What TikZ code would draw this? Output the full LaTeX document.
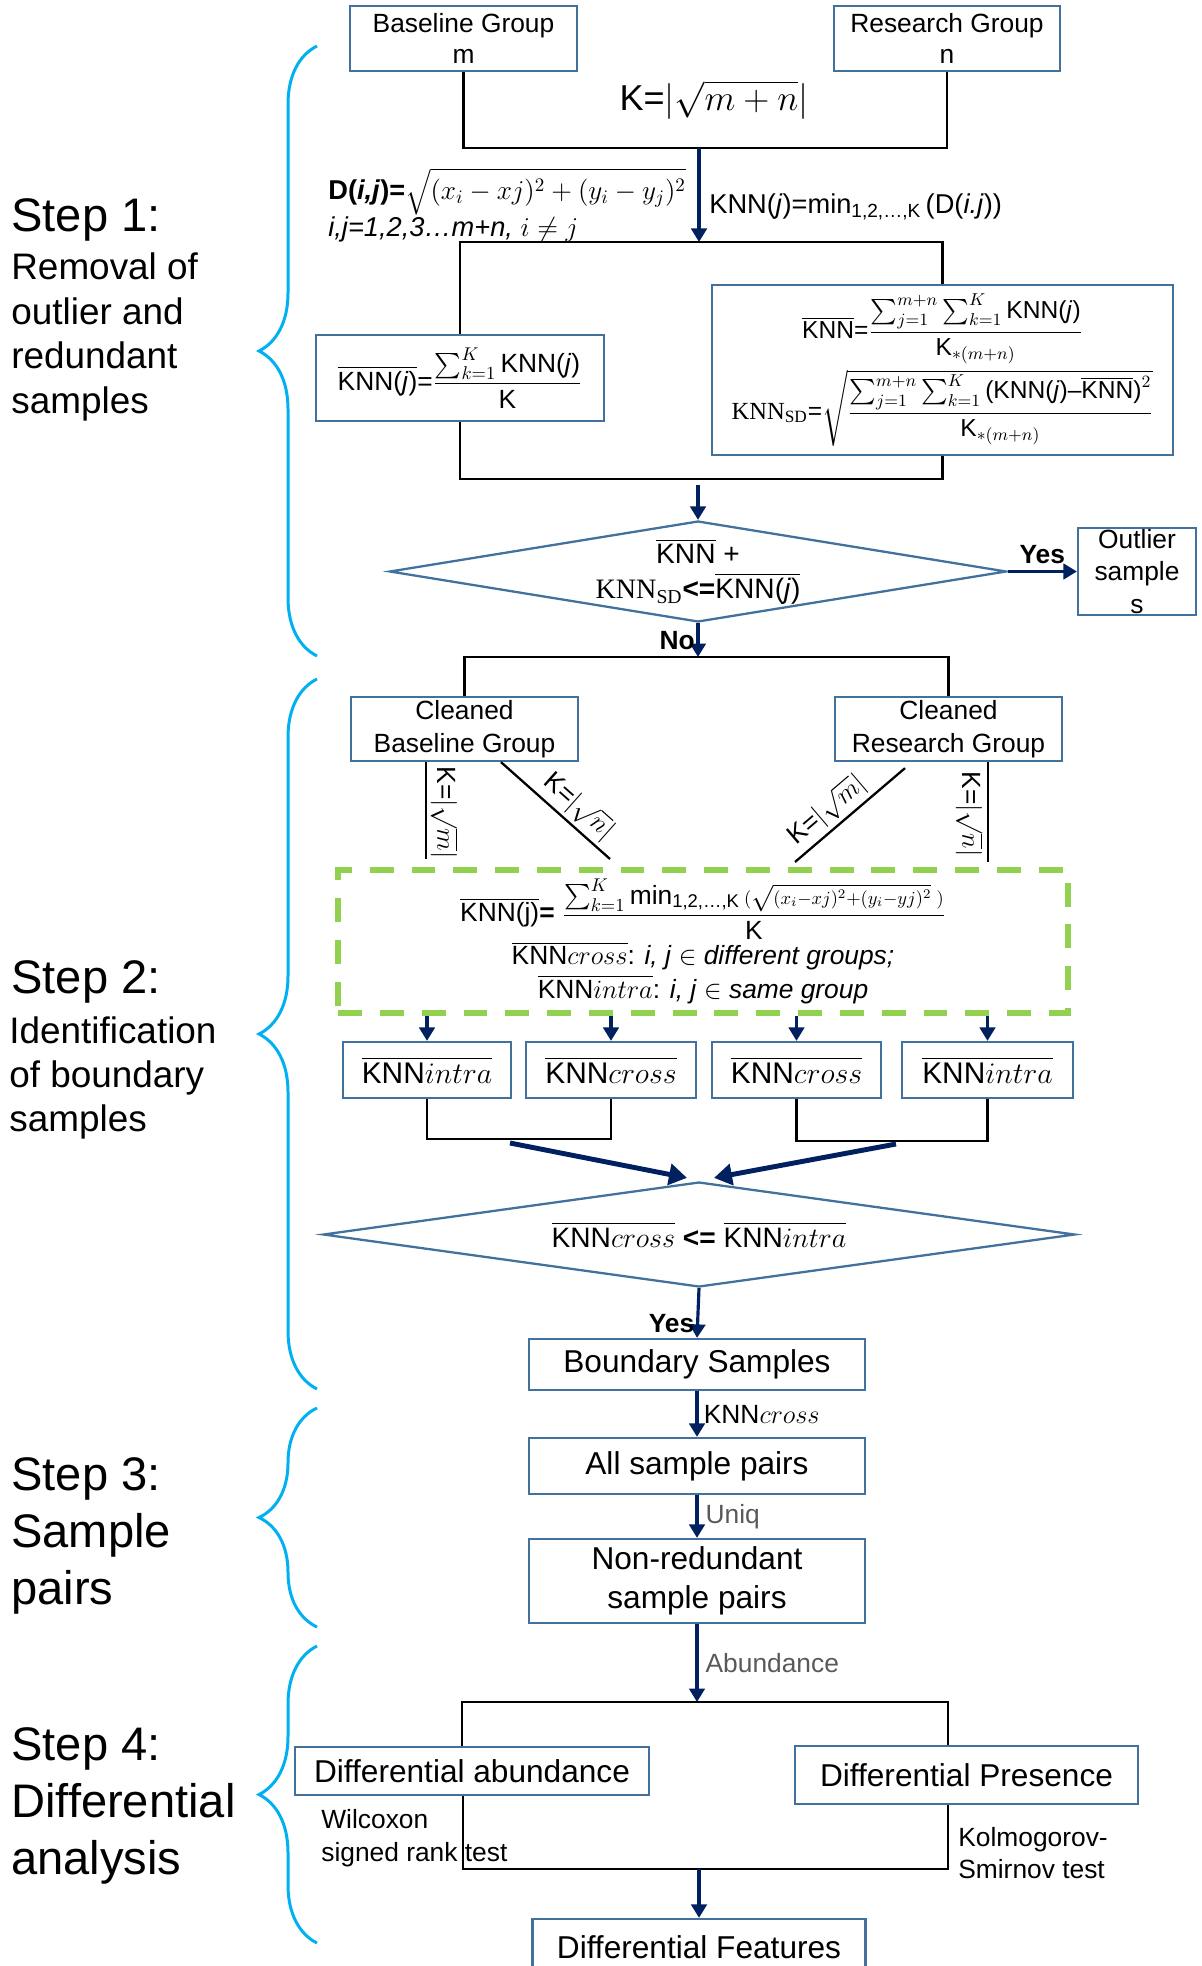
\RequirePackage{fix-cm}
\documentclass[tikz,border=0pt]{standalone}
\usepackage{amsmath}
\usepackage{fontspec}
\setmainfont{Liberation Sans}
\newfontfamily\tnr{Liberation Serif}
\usetikzlibrary{arrows.meta,shapes.geometric,decorations.pathreplacing}

\definecolor{boxblue}{HTML}{41719C}
\definecolor{navy}{HTML}{002060}
\definecolor{bracecyan}{HTML}{00B0F0}
\definecolor{dashgreen}{HTML}{92D050}
\definecolor{labelgray}{HTML}{595959}

\newcommand{\fsz}[2]{\fontsize{#1}{#2}\selectfont}

\tikzset{
  box/.style={draw=boxblue, line width=1.3pt, align=center, inner sep=1pt},
  flowline/.style={line width=1.3pt, black},
  flowarrow/.style={line width=1.8pt, navy, -{Triangle[length=2.7mm,width=3.1mm]}},
  bigarrow/.style={line width=2.8pt, navy, -{Triangle[length=3.6mm,width=4.2mm]}},
  decision/.style={diamond, draw=boxblue, line width=1.3pt, inner sep=0pt, aspect=6, align=center},
  steptext/.style={anchor=west, align=left, inner sep=0pt},
  stepbrace/.style={decorate, decoration={brace, amplitude=1.16cm}, draw=bracecyan, line width=1.7pt},
  edgelabel/.style={font=\fsz{15pt}{18pt}, text=black},
  yeslabel/.style={font=\fsz{15pt}{18pt}\bfseries, text=black},
}

\begin{document}
\begin{tikzpicture}[x=0.02cm,y=-0.02cm]
\useasboundingbox (0,0) rectangle (1202,1966);
\clip (0,0) rectangle (1202,1966);

% steps on the left
\node[steptext, font=\fsz{26.8pt}{32pt}] (s1h) at (11,220) {Step 1:};
\node[steptext, font=\fsz{21pt}{25.5pt}] (s1b) at (11,337) {Removal of\\outlier and\\redundant\\samples};
\node[steptext, font=\fsz{26.8pt}{32pt}] (s2h) at (11,982) {Step 2:};
\node[steptext, font=\fsz{21pt}{25.2pt}] (s2b) at (9,1078) {Identification\\of boundary\\samples};
\node[steptext, font=\fsz{26.8pt}{32.3pt}] (s3) at (11,1536) {Step 3:\\Sample\\pairs};
\node[steptext, font=\fsz{26.8pt}{32.3pt}] (s4) at (11,1806) {Step 4:\\Differential\\analysis};

\draw[stepbrace] (317,656) -- (317,46);
\draw[stepbrace] (317,1389) -- (317,679);
\draw[stepbrace] (317,1627) -- (317,1408);
\draw[stepbrace] (317,1943) -- (317,1646);

% step 1
\node[box, font=\fsz{15pt}{18pt}, minimum width=4.54cm, minimum height=1.3cm] (base) at (463.5,38.5) {Baseline Group\\m};
\node[box, font=\fsz{15pt}{18pt}, minimum width=4.52cm, minimum height=1.3cm] (res) at (947,38.5) {Research Group\\n};
\node[font=\fsz{20.5pt}{24pt}] (kform) at (714,100) {K=$|\sqrt{m+n}|$};
\coordinate (ja) at (699,148);
\draw[flowline] (base.south) |- (ja) -| (res.south);

\node[anchor=west, align=left, inner sep=0pt, font=\fsz{15.5pt}{19pt}] (dist) at (328,205)
  {\textbf{D(\textit{i,j})=}$\sqrt{(x_i-xj)^2+(y_i-y_j)^2}$\\\textit{i,j=1,2,3…m+n,} $i\neq j$};
\node[anchor=west, inner sep=0pt, font=\fsz{15.5pt}{18pt}] (knnmin) at (709,207)
  {KNN(\textit{j})=min\textsubscript{1,2,…,K}\,(D(\textit{i.j}))};

\coordinate (jb) at (699,242);
\node[box, font=\fsz{15pt}{18pt}, minimum width=5.76cm, minimum height=1.72cm] (kbar) at (460,378)
  {$\overline{\text{KNN(\textit{j})}}$=$\dfrac{\sum_{k=1}^{K}\text{KNN(\textit{j})}}{\text{K}}$};
\node[box, font=\fsz{14pt}{17pt}, minimum width=9.22cm, minimum height=3.4cm] (kstat) at (942.5,370)
  {$\overline{\text{KNN}}$=$\dfrac{\sum_{j=1}^{m+n}\sum_{k=1}^{K}\text{KNN(\textit{j})}}{\text{K}_{*(m+n)}}$\\[2pt]
   {\tnr KNN\textsubscript{SD}}=$\sqrt{\dfrac{\sum_{j=1}^{m+n}\sum_{k=1}^{K}\text{(KNN(\textit{j})–}\overline{\text{KNN}}\text{)}^2}{\text{K}_{*(m+n)}}}$};
\draw[flowline] (kbar.north) |- (jb) -| (kstat.north);
\draw[flowarrow] (ja) -- (jb);

\coordinate (jc) at (698,479);
\draw[flowline] (kbar.south) |- (jc) -| (kstat.south);
\node[decision, font=\fsz{16pt}{20pt}, minimum width=12.34cm, minimum height=2.02cm] (d1) at (698,571.5)
  {$\overline{\text{KNN}}$ +\\{\tnr KNN\textsubscript{SD}}\textbf{<=}$\overline{\text{KNN(\textit{j})}}$};
\draw[flowarrow] ([yshift=-0.12cm]jc) -- (d1.north);

\node[box, font=\fsz{15pt}{18.4pt}, minimum width=2.36cm, minimum height=1.74cm, inner sep=0pt] (outl) at (1137,571.5) {Outlier\\sample\\s};
\draw[flowarrow] (d1.east) -- node[above, yeslabel] {Yes} (outl.west);

% step 2
\coordinate (jd) at (698,657);
\draw[flowarrow] (d1.south) -- node[left, yeslabel, inner sep=1pt] {No} (jd);
\node[box, font=\fsz{15pt}{18.7pt}, minimum width=4.54cm, minimum height=1.28cm] (cb) at (464.5,729) {Cleaned\\Baseline Group};
\node[box, font=\fsz{15pt}{18.7pt}, minimum width=4.54cm, minimum height=1.28cm] (cr) at (948.5,729) {Cleaned\\Research Group};
\draw[flowline] (cb.north) |- (jd) -| (cr.north);

\coordinate (t1) at (426,859);
\coordinate (t2) at (610,859);
\coordinate (t3) at (795,862);
\coordinate (t4) at (988,862);
\draw[flowline] (cb.south -| t1) -- node[above, sloped, pos=0.52, edgelabel, inner sep=2pt] {K=$|\sqrt{m}|$} (t1);
\draw[flowline] ([xshift=0.73cm]cb.south) -- node[above, sloped, pos=0.6, edgelabel, inner sep=2pt] {K=$|\sqrt{n}|$} (t2);
\draw[flowline] ([xshift=-0.87cm,yshift=-0.12cm]cr.south) -- node[above, sloped, pos=0.6, edgelabel, inner sep=2pt] {K=$|\sqrt{m}|$} (t3);
\draw[flowline] (cr.south -| t4) -- node[below, sloped, pos=0.52, edgelabel, inner sep=2pt] {K=$|\sqrt{n}|$} (t4);

\node[draw=dashgreen, line width=3.2pt, dash pattern=on 13.6pt off 10.2pt, minimum width=14.6cm, minimum height=2.86cm,
  align=center, font=\fsz{15pt}{19pt}] (knnbox) at (703,941.5)
  {$\overline{\text{KNN(j)}}$\textbf{=} $\dfrac{\sum_{k=1}^{K}\text{min}_{\text{1,2,…,K}}\,{\scriptstyle(\sqrt{(x_i-xj)^2+(y_i-yj)^2}\;)}}{\text{K}}$\\
   $\overline{\text{KNN}cross}$: \textit{i, j} $\in$ \textit{different groups;}\\
   $\overline{\text{KNN}intra}$: \textit{i, j} $\in$ \textit{same group}};

\node[box, font=\fsz{17pt}{20pt}, minimum width=3.36cm, minimum height=1.12cm] (i1) at (427,1070) {$\overline{\text{KNN}intra}$};
\node[box, font=\fsz{17pt}{20pt}, minimum width=3.4cm, minimum height=1.12cm] (c1) at (611,1070) {$\overline{\text{KNN}cross}$};
\node[box, font=\fsz{17pt}{20pt}, minimum width=3.38cm, minimum height=1.12cm] (c2) at (796.5,1070) {$\overline{\text{KNN}cross}$};
\node[box, font=\fsz{17pt}{20pt}, minimum width=3.42cm, minimum height=1.12cm] (i2) at (987.5,1070) {$\overline{\text{KNN}intra}$};
\foreach \b in {i1,c1,c2,i2}
  \draw[flowarrow] (knnbox.south -| \b.north) -- (\b.north);

\coordinate (je) at (517,1139);
\coordinate (jf) at (894,1141);
\draw[flowline] (i1.south) |- (je) -| (c1.south);
\draw[flowline] (c2.south) |- (jf) -| (i2.south);

\node[decision, aspect=7, font=\fsz{16pt}{20pt}, minimum width=15.04cm, minimum height=2.1cm] (d2) at (699,1234.5)
  {$\overline{\text{KNN}cross}$ \textbf{<=} $\overline{\text{KNN}intra}$};
\draw[bigarrow] ([xshift=-0.14cm,yshift=-0.08cm]je) -- ([xshift=-0.24cm,yshift=0.06cm]d2.north);
\draw[bigarrow] ([xshift=0.04cm,yshift=-0.06cm]jf) -- ([xshift=0.3cm,yshift=0.06cm]d2.north);

% step 3
\node[box, font=\fsz{18pt}{22pt}, minimum width=6.72cm, minimum height=1.02cm] (bs) at (697,1364.5) {Boundary Samples};
\draw[flowarrow] (d2.south) -- node[left, pos=0.72, yeslabel, inner sep=1pt] {Yes} (bs.north);
\node[box, font=\fsz{18pt}{22pt}, minimum width=6.72cm, minimum height=1.12cm] (asp) at (697,1466) {All sample pairs};
\draw[flowarrow] (bs.south) -- node[right, edgelabel, inner sep=3pt] {KNN$cross$} (asp.north);
\node[box, font=\fsz{18pt}{22pt}, minimum width=6.72cm, minimum height=1.68cm] (nrp) at (697,1581) {Non-redundant\\sample pairs};
\draw[flowarrow] (asp.south) -- node[right, edgelabel, text=labelgray, inner sep=4pt] {Uniq} (nrp.north);

% step 4
\coordinate (jg) at (697,1702);
\draw[flowarrow] (nrp.south) -- node[right, edgelabel, text=labelgray, inner sep=4pt] {Abundance} (jg);
\coordinate (gl) at (462,1702);
\coordinate (gr) at (948,1702);
\node[box, font=\fsz{18pt}{22pt}, minimum width=7.08cm, minimum height=0.96cm] (da) at (472,1771) {Differential abundance};
\node[box, font=\fsz{18pt}{22pt}, minimum width=6.86cm, minimum height=1.16cm] (dp) at (966.5,1775) {Differential Presence};
\draw[flowline] (da.north -| gl) -- (gl) -- (gr) -- (dp.north -| gr);

\coordinate (hl) at (463,1869);
\coordinate (hr) at (948,1869);
\draw[flowline] (da.south -| hl) -- (hl) -- (hr) -- (dp.south -| hr);
\node[box, font=\fsz{18pt}{22pt}, minimum width=6.66cm, minimum height=1.12cm] (df) at (699,1947) {Differential Features};
\draw[flowarrow] (df.north |- hl) -- (df.north);

\node[anchor=west, align=left, inner sep=0pt, font=\fsz{15pt}{18.7pt}] (wil) at (321,1838) {Wilcoxon\\signed rank test};
\node[anchor=west, align=left, inner sep=0pt, font=\fsz{15pt}{18.7pt}] (ks) at (958,1853) {Kolmogorov-\\Smirnov test};
\end{tikzpicture}
\end{document}
